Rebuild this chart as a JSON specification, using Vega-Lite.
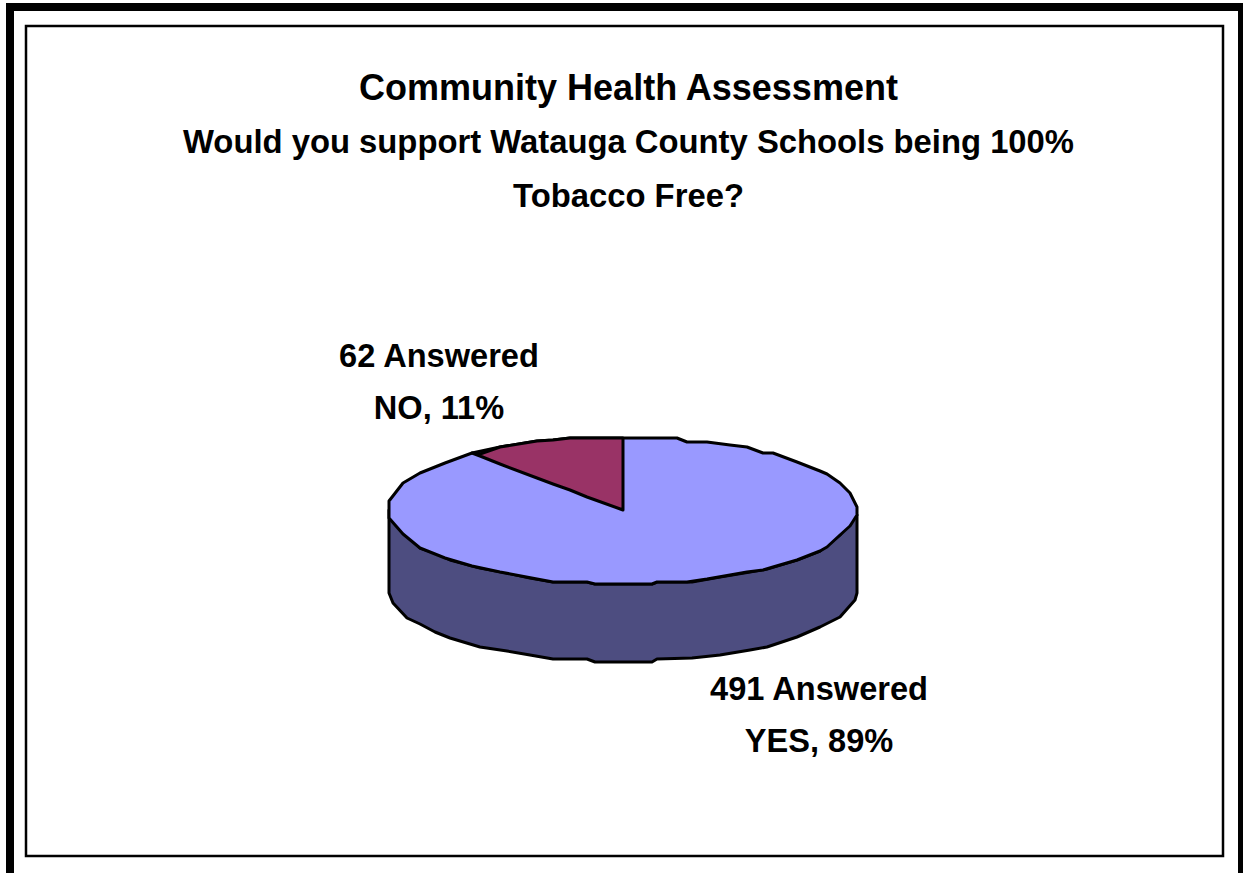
{"$schema":"https://vega.github.io/schema/vega-lite/v6.json","width":1243,"height":873,"autosize":"none","padding":0,"background":"white","view":{"stroke":null},
"title":{"text":"Community Health Assessment","subtitle":["Would you support Watauga County Schools being 100%","Tobacco Free?"],"anchor":"middle","frame":"group","dx":7,"offset":-215,"font":"Liberation Sans","fontSize":36,"fontWeight":"bold","color":"#000000","subtitleFont":"Liberation Sans","subtitleFontSize":32.8,"subtitleFontWeight":"bold","subtitleColor":"#000000","subtitleLineHeight":54,"subtitlePadding":19},
"datasets":{
"frame":[{"part":"left","x0":6,"x1":14,"y0":3,"y1":873},{"part":"top","x0":6,"x1":1243,"y0":3,"y1":11},{"part":"right","x0":1238,"x1":1243,"y0":3,"y1":873}],
"inner":[{"x0":26,"x1":1223,"y0":26,"y1":856}],
"side":[{"x":389,"top":510,"bottom":593},{"x":393,"top":515,"bottom":603},{"x":407,"top":532,"bottom":618},{"x":420,"top":548,"bottom":624},{"x":435,"top":553,"bottom":632},{"x":450,"top":560,"bottom":638},{"x":480,"top":568,"bottom":647},{"x":507,"top":573,"bottom":651},{"x":530,"top":578,"bottom":655},{"x":553,"top":582,"bottom":659},{"x":587,"top":582,"bottom":659},{"x":595,"top":584,"bottom":662},{"x":623,"top":584,"bottom":662},{"x":652,"top":584,"bottom":662},{"x":657,"top":582,"bottom":659},{"x":692,"top":582,"bottom":658},{"x":720,"top":577,"bottom":655},{"x":750,"top":572,"bottom":650},{"x":767,"top":569,"bottom":647},{"x":797,"top":560,"bottom":637},{"x":820,"top":551,"bottom":627},{"x":840,"top":535,"bottom":617},{"x":855,"top":517,"bottom":600},{"x":857,"top":515,"bottom":593}],
"yes":[{"x":389,"top":501,"bottom":518},{"x":403,"top":483,"bottom":534},{"x":420,"top":473,"bottom":548},{"x":445,"top":463,"bottom":558},{"x":472,"top":453,"bottom":566},{"x":500,"top":447,"bottom":572},{"x":537,"top":441,"bottom":579},{"x":553,"top":440,"bottom":582},{"x":570,"top":438,"bottom":582},{"x":587,"top":438,"bottom":582},{"x":595,"top":438,"bottom":584},{"x":623,"top":438,"bottom":584},{"x":652,"top":438,"bottom":584},{"x":657,"top":438,"bottom":582},{"x":677,"top":438,"bottom":582},{"x":687,"top":442,"bottom":582},{"x":707,"top":442,"bottom":579},{"x":730,"top":445,"bottom":575},{"x":747,"top":447,"bottom":572},{"x":763,"top":453,"bottom":570},{"x":773,"top":453,"bottom":567},{"x":797,"top":462,"bottom":560},{"x":820,"top":471,"bottom":551},{"x":827,"top":474,"bottom":547},{"x":840,"top":483,"bottom":535},{"x":850,"top":493,"bottom":526},{"x":857,"top":507,"bottom":515}],
"no":[{"x":472,"top":453,"bottom":453},{"x":480,"top":454,"bottom":456},{"x":500,"top":447,"bottom":464},{"x":537,"top":441,"bottom":478},{"x":553,"top":440,"bottom":484},{"x":570,"top":438,"bottom":490},{"x":587,"top":438,"bottom":497},{"x":623,"top":438,"bottom":510}],
"labels":[{"answer":"NO","count":62,"percent":11,"label":"62 Answered\nNO, 11%","x":439,"y":367},{"answer":"YES","count":491,"percent":89,"label":"491 Answered\nYES, 89%","x":819,"y":700}]
},
"layer":[
{"data":{"name":"frame"},"mark":{"type":"rect","color":"#000000"},"encoding":{"x":{"field":"x0","type":"quantitative","scale":{"domain":[0,1243],"nice":false},"axis":null},"x2":{"field":"x1"},"y":{"field":"y0","type":"quantitative","scale":{"domain":[873,0],"nice":false},"axis":null},"y2":{"field":"y1"}}},
{"data":{"name":"inner"},"mark":{"type":"rect","fill":null,"filled":false,"stroke":"#000000","strokeWidth":2.5},"encoding":{"x":{"field":"x0","type":"quantitative","axis":null},"x2":{"field":"x1"},"y":{"field":"y0","type":"quantitative","axis":null},"y2":{"field":"y1"}}},
{"data":{"name":"side"},"mark":{"type":"area","fill":"#4D4D80","stroke":"#000000","strokeWidth":3,"strokeJoin":"round"},"encoding":{"x":{"field":"x","type":"quantitative","axis":null},"y":{"field":"top","type":"quantitative","axis":null},"y2":{"field":"bottom"}}},
{"data":{"name":"yes"},"mark":{"type":"area","fill":"#9999FF","stroke":"#000000","strokeWidth":3,"strokeJoin":"round"},"encoding":{"x":{"field":"x","type":"quantitative","axis":null},"y":{"field":"top","type":"quantitative","axis":null},"y2":{"field":"bottom"}}},
{"data":{"name":"no"},"mark":{"type":"area","fill":"#993366","stroke":"#000000","strokeWidth":3,"strokeJoin":"round"},"encoding":{"x":{"field":"x","type":"quantitative","axis":null},"y":{"field":"top","type":"quantitative","axis":null},"y2":{"field":"bottom"}}},
{"data":{"name":"labels"},"mark":{"type":"text","font":"Liberation Sans","fontWeight":"bold","fontSize":32.6,"color":"#000000","align":"center","baseline":"alphabetic","lineBreak":"\n","lineHeight":52},"encoding":{"x":{"field":"x","type":"quantitative","axis":null},"y":{"field":"y","type":"quantitative","axis":null},"text":{"field":"label"}}}
]}
